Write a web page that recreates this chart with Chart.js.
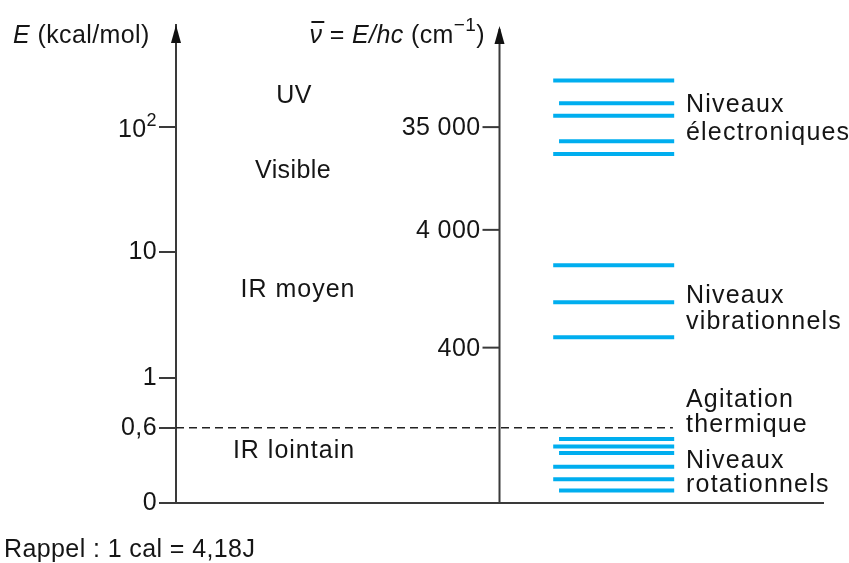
<!DOCTYPE html>
<html>
<head>
<meta charset="utf-8">
<script src="https://cdn.jsdelivr.net/npm/chart.js@4"></script>
<style>
  body { margin: 0; background: #fff; }
  canvas { display: block; }
</style>
</head>
<body>
<canvas id="diagram" width="849" height="563"></canvas>
<script>
const leftTickEnergies = [0, 0.6, 1, 10, 100];
const leftTickLabels = ['0', '0,6', '1', '10', ''];   // 10² dessiné à part (exposant)
const rightTickLabels = ['35 000', '4 000', '400'];
const rightTickLevels = [3.0, 2.18, 1.24];

const electronicLevels = [235, 155, 123, 77, 61];
const electronicShort = [false, true, false, true, false];
const vibrationalLevels = [7.9, 4.0, 2.1];
const vibrationalShort = [false, false, false];
const rotationalLevels = [0.51, 0.45, 0.40, 0.29, 0.19, 0.10];
const rotationalShort = [true, false, true, false, false, true];
const thermalEnergy = 0.6;

const FONT = '"Liberation Sans", Arial, sans-serif';
const INK = '#151515';
const AXIS = '#3a3a3a';
const BLUE = '#00aeef';

// échelle du schéma : linéaire jusqu'à 1, puis une décade par unité
function toLevel(e) {
  return e <= 1 ? e : 1 + Math.log10(e);
}

function levelDatasets(levels, short) {
  return levels.map((e, i) => ({
    data: [{ x: short[i] ? 59.2 : 58.3, y: toLevel(e) }, { x: 77, y: toLevel(e) }],
    borderColor: BLUE,
    borderWidth: 4,
    pointRadius: 0,
    borderCapStyle: 'butt'
  }));
}

const datasets = [
  {
    data: [{ x: 0, y: toLevel(thermalEnergy) }, { x: 76.8, y: toLevel(thermalEnergy) }],
    borderColor: '#222',
    borderWidth: 1.6,
    borderDash: [8, 5],
    pointRadius: 0
  },
  ...levelDatasets(electronicLevels, electronicShort),
  ...levelDatasets(vibrationalLevels, vibrationalShort),
  ...levelDatasets(rotationalLevels, rotationalShort)
];

function drawRuns(ctx, x, y, runs) {
  runs.forEach((r) => {
    ctx.font = r.font;
    ctx.fillText(r.t, x, y - (r.dy || 0));
    r.x = x;
    r.w = ctx.measureText(r.t).width;
    x += r.w;
  });
  return runs;
}

function runsWidth(ctx, runs) {
  return runs.reduce((s, r) => { ctx.font = r.font; return s + ctx.measureText(r.t).width; }, 0);
}

function arrow(ctx, x, top) {
  ctx.beginPath();
  ctx.moveTo(x, top);
  ctx.lineTo(x - 5, top + 18);
  ctx.lineTo(x + 5, top + 18);
  ctx.closePath();
  ctx.fill();
}

const annotations = {
  id: 'annotations',
  beforeDraw(chart) {
    chart.ctx.letterSpacing = '0.4px';
  },
  afterDraw(chart) {
    const ctx = chart.ctx;
    const xs = chart.scales.x;
    const ys = chart.scales.y;
    const area = chart.chartArea;
    const leftX = area.left;
    const rightX = xs.getPixelForValue(50);

    ctx.save();
    // axe de droite
    ctx.strokeStyle = AXIS;
    ctx.lineWidth = 2;
    ctx.beginPath();
    ctx.moveTo(rightX, area.bottom);
    ctx.lineTo(rightX, area.top + 4);
    ctx.stroke();

    ctx.fillStyle = '#111';
    arrow(ctx, leftX, area.top);
    arrow(ctx, rightX, area.top + 1);

    ctx.fillStyle = INK;
    ctx.font = '25px ' + FONT;
    ctx.letterSpacing = '0.4px';
    ctx.textAlign = 'right';
    ctx.textBaseline = 'middle';
    rightTickLevels.forEach((lv, i) => {
      const py = ys.getPixelForValue(lv);
      ctx.beginPath();
      ctx.moveTo(rightX - 17, py);
      ctx.lineTo(rightX, py);
      ctx.stroke();
      ctx.fillText(rightTickLabels[i], rightX - 19, py + 1);
    });

    // 10² avec exposant
    ctx.textAlign = 'left';
    ctx.textBaseline = 'alphabetic';
    const py100 = ys.getPixelForValue(toLevel(100));
    const pow = [
      { t: '10', font: '25px ' + FONT },
      { t: '2', font: '18px ' + FONT, dy: 11 }
    ];
    drawRuns(ctx, leftX - 19 - runsWidth(ctx, pow), py100 + 10, pow);

    // zones spectrales
    ctx.font = '25px ' + FONT;
    ctx.textAlign = 'center';
    ctx.fillText('UV', 294, 103);
    ctx.fillText('Visible', 293, 178);
    ctx.letterSpacing = '1px';
    ctx.fillText('IR moyen', 298, 297);
    ctx.fillText('IR lointain', 294, 458);

    // légendes de droite
    ctx.textAlign = 'left';
    ctx.letterSpacing = '1.2px';
    const rx = 686;
    ctx.fillText('Niveaux', rx, 112);
    ctx.fillText('électroniques', rx, 140);
    ctx.fillText('Niveaux', rx, 303);
    ctx.fillText('vibrationnels', rx, 329);
    ctx.fillText('Agitation', rx, 407);
    ctx.fillText('thermique', rx, 432);
    ctx.fillText('Niveaux', rx, 468);
    ctx.fillText('rotationnels', rx, 492);

    ctx.letterSpacing = '0.4px';
    ctx.fillText('Rappel : 1 cal = 4,18J', 4, 557);

    // titres des axes
    drawRuns(ctx, 13, 43, [
      { t: 'E', font: 'italic 25px ' + FONT },
      { t: ' (kcal/mol)', font: '25px ' + FONT }
    ]);

    const runs = [
      { t: 'ν', font: 'italic 25px ' + FONT },
      { t: ' = ', font: '25px ' + FONT },
      { t: 'E/hc', font: 'italic 25px ' + FONT },
      { t: ' (cm', font: '25px ' + FONT },
      { t: '−1', font: '19px ' + FONT, dy: 12 },
      { t: ')', font: '25px ' + FONT }
    ];
    const w = runsWidth(ctx, runs);
    drawRuns(ctx, 485 - w, 43, runs);
    const nu = runs[0];
    ctx.strokeStyle = INK;
    ctx.lineWidth = 2;
    ctx.beginPath();
    ctx.moveTo(nu.x + 2, 22);
    ctx.lineTo(nu.x + nu.w + 2, 22);
    ctx.stroke();
    ctx.restore();
  }
};

new Chart(document.getElementById('diagram'), {
  type: 'line',
  data: { datasets },
  options: {
    responsive: false,
    animation: false,
    layout: { padding: { top: 25, right: 26, bottom: 60, left: 0 } },
    plugins: { legend: { display: false }, tooltip: { enabled: false } },
    scales: {
      x: {
        type: 'linear',
        min: 0,
        max: 100,
        grid: { display: false },
        ticks: { display: false },
        border: { display: true, color: AXIS, width: 2 },
        afterFit: (scale) => { scale.height = 0; }
      },
      y: {
        type: 'linear',
        min: 0,
        max: 3.815,
        afterBuildTicks: (scale) => {
          scale.ticks = leftTickEnergies.map((e) => ({ value: toLevel(e) }));
        },
        afterFit: (scale) => { scale.width = 176; },
        grid: { drawOnChartArea: false, drawTicks: true, tickLength: 17, color: AXIS, lineWidth: 2 },
        border: { display: true, color: AXIS, width: 2 },
        ticks: {
          padding: 2,
          color: INK,
          font: { family: FONT, size: 25 },
          callback: (value, index) => leftTickLabels[index]
        }
      }
    }
  },
  plugins: [annotations]
});
</script>
</body>
</html>
